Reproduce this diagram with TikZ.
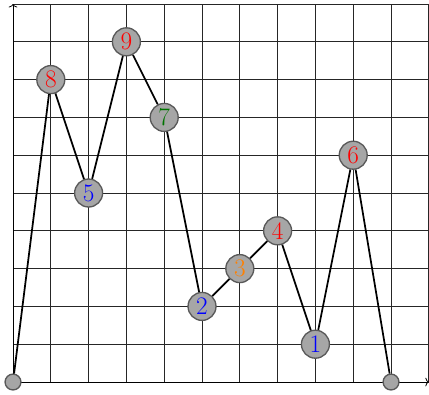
\documentclass[tikz,border=0pt]{standalone}
\usetikzlibrary{arrows.meta}
\begin{document}
\begin{tikzpicture}[x=1cm,y=1cm,
  vert/.style={circle,draw=black!65,fill=black!35,line width=1pt,minimum size=0.74cm,inner sep=0pt,font=\fontsize{19}{22}\selectfont},
  endpt/.style={circle,draw=black!65,fill=black!35,line width=1pt,minimum size=0.42cm,inner sep=0pt},
  link/.style={line width=1.3pt,black},
  axis/.style={-{To[length=2.6pt,width=6.5pt]},black,line width=0.6pt}]
\useasboundingbox (-0.344,-0.317) rectangle (11.005,10.106);
\draw[black!85,line width=0.5pt] (0,0) grid (11,10);
\draw[axis] (0,0) -- (11,0);
\draw[axis] (0,0) -- (0,10);
\node[endpt] (s) at (0,0) {};
\node[vert,text=red] (n8) at (1,8) {8};
\node[vert,text=blue] (n5) at (2,5) {5};
\node[vert,text=red] (n9) at (3,9) {9};
\node[vert,text=green!45!black] (n7) at (4,7) {7};
\node[vert,text=blue] (n2) at (5,2) {2};
\node[vert,text=orange] (n3) at (6,3) {3};
\node[vert,text=red] (n4) at (7,4) {4};
\node[vert,text=blue] (n1) at (8,1) {1};
\node[vert,text=red] (n6) at (9,6) {6};
\node[endpt] (e) at (10,0) {};
\draw[link] (s) -- (n8) -- (n5) -- (n9) -- (n7) -- (n2) -- (n3) -- (n4) -- (n1) -- (n6) -- (e);
\end{tikzpicture}
\end{document}
